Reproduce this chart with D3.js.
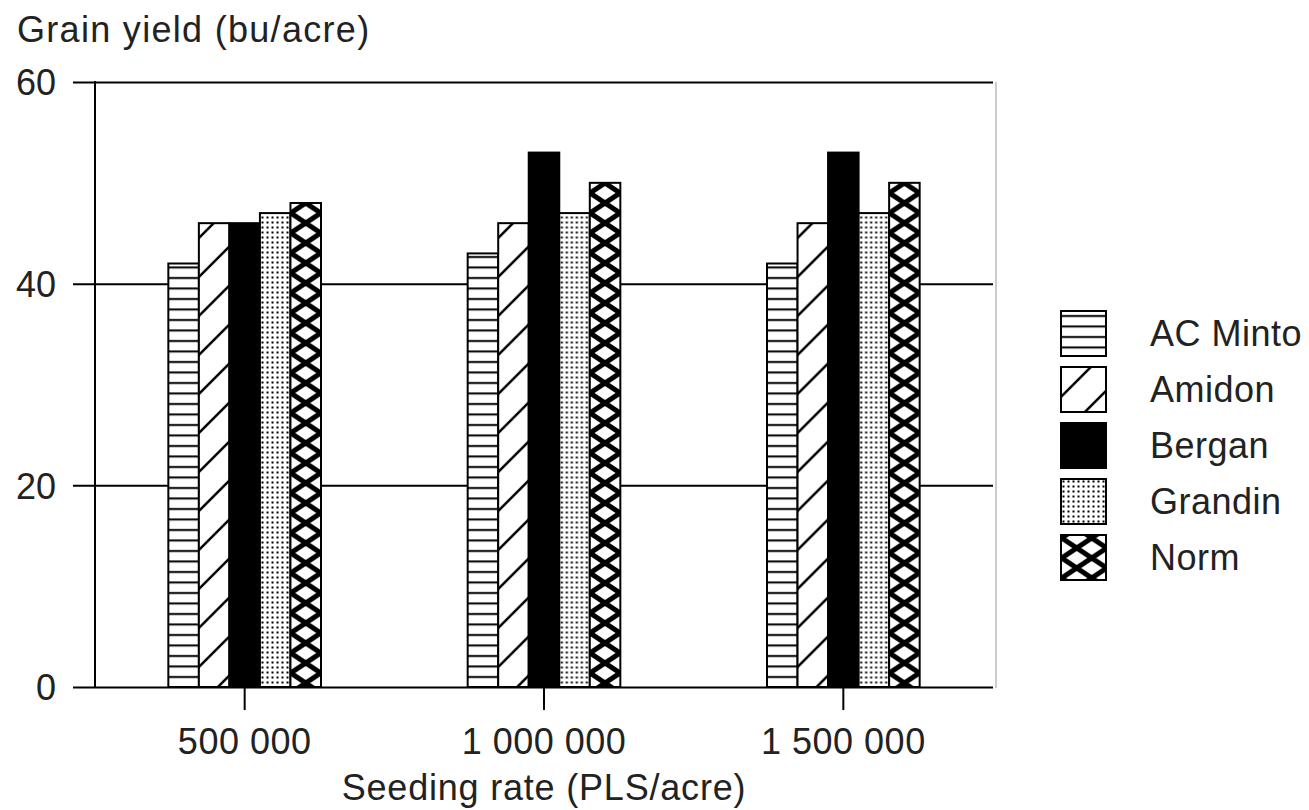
<!DOCTYPE html>
<html>
<head>
<meta charset="utf-8">
<script src="https://cdn.jsdelivr.net/npm/d3@7"></script>
<style>
  body { margin: 0; background: #fff; }
  text { font-family: "Liberation Sans", Arial, sans-serif; fill: #222; }
</style>
</head>
<body>
<div id="vis"></div>
<script>
// datos
const rates = ["500 000", "1 000 000", "1 500 000"];
const varieties = ["AC Minto", "Amidon", "Bergan", "Grandin", "Norm"];
const acMinto = [42, 43, 42];
const amidon = [46, 46, 46];
const bergan = [46, 53, 53];
const grandin = [47, 47, 47];
const norm = [48, 50, 50];
const yTicks = [0, 20, 40, 60];

const series = [acMinto, amidon, bergan, grandin, norm];
const fills = ["url(#p-hlines)", "url(#p-diag)", "#000", "url(#p-dots)", "url(#p-cross)"];

const WIDTH = 1309;
const HEIGHT = 810;

const SVG = d3.select("#vis").append("svg")
    .attr("width", WIDTH)
    .attr("height", HEIGHT);

const plotLeft = 95, plotRight = 993, plotTop = 82, plotBottom = 687;

const x0 = d3.scaleBand().domain(rates).range([plotLeft, plotRight]).paddingInner(0).paddingOuter(0);
const x1 = d3.scaleBand().domain(varieties)
    .range([x0.bandwidth() * 0.245, x0.bandwidth() * 0.755]);
const y = d3.scaleLinear().domain([0, 60]).range([plotBottom, plotTop]);

// patrones (coordenadas locales de cada grupo)
const defs = SVG.append("defs");

const ph = defs.append("pattern").attr("id", "p-hlines")
    .attr("patternUnits", "userSpaceOnUse").attr("width", 10).attr("height", 10.5);
ph.append("rect").attr("width", 10).attr("height", 10.5).attr("fill", "#fff");
ph.append("rect").attr("y", 4).attr("width", 10).attr("height", 2).attr("fill", "#000");

const pd = defs.append("pattern").attr("id", "p-diag")
    .attr("patternUnits", "userSpaceOnUse").attr("width", 39).attr("height", 39)
    .attr("x", x1("Amidon")).attr("y", 4);
pd.append("rect").attr("width", 39).attr("height", 39).attr("fill", "#fff");
pd.append("path").attr("d", "M-4,43 L43,-4 M-11,11 L11,-11 M28,50 L50,28")
    .attr("stroke", "#000").attr("stroke-width", 2.5);

const pdots = defs.append("pattern").attr("id", "p-dots")
    .attr("patternUnits", "userSpaceOnUse").attr("width", 5).attr("height", 5);
pdots.append("rect").attr("width", 5).attr("height", 5).attr("fill", "#fff");
pdots.append("rect").attr("x", 1.5).attr("y", 1.5).attr("width", 2).attr("height", 2).attr("fill", "#000");

const pc = defs.append("pattern").attr("id", "p-cross")
    .attr("patternUnits", "userSpaceOnUse").attr("width", 30).attr("height", 20)
    .attr("x", x1("Norm") + x1.bandwidth() / 2 - 15).attr("y", 13);
pc.append("rect").attr("width", 30).attr("height", 20).attr("fill", "#fff");
pc.append("path").attr("d", "M-6,-4 L36,24 M36,-4 L-6,24")
    .attr("stroke", "#000").attr("stroke-width", 5);

// borde derecho gris
SVG.append("line")
    .attr("x1", plotRight + 3).attr("x2", plotRight + 3)
    .attr("y1", plotTop).attr("y2", plotBottom + 1)
    .attr("stroke", "#bbb").attr("stroke-width", 1.5);

// eje y con lineas de grilla
const yAxis = SVG.append("g")
    .attr("transform", `translate(${plotRight},0)`)
    .call(d3.axisLeft(y).tickValues(yTicks).tickSize(plotRight - 73).tickPadding(17));
yAxis.select(".domain").remove();
yAxis.selectAll(".tick line").attr("stroke", "#000").attr("stroke-width", 2);
yAxis.selectAll(".tick text")
    .style("font-size", "36px")
    .attr("fill", "#222")
    .attr("dy", "0.36em");

SVG.append("line")
    .attr("x1", plotLeft).attr("x2", plotLeft)
    .attr("y1", plotTop - 1).attr("y2", plotBottom)
    .attr("stroke", "#000").attr("stroke-width", 2);

// barras
const groups = SVG.append("g").selectAll("g")
    .data(rates)
    .join("g")
    .attr("transform", d => `translate(${x0(d)},0)`);

groups.selectAll("rect")
    .data((d, i) => varieties.map((v, j) => ({ v: v, val: series[j][i], fill: fills[j] })))
    .join("rect")
    .attr("x", d => x1(d.v))
    .attr("y", d => y(d.val))
    .attr("width", x1.bandwidth())
    .attr("height", d => y(0) - y(d.val))
    .attr("fill", d => d.fill)
    .attr("stroke", "#000")
    .attr("stroke-width", 2);

// eje x
const xAxis = SVG.append("g")
    .attr("transform", `translate(0,${plotBottom})`)
    .call(d3.axisBottom(x0).tickSize(23).tickPadding(18));
xAxis.select(".domain").remove();
xAxis.selectAll(".tick line").attr("stroke", "#000").attr("stroke-width", 2);
xAxis.selectAll(".tick text")
    .style("font-size", "36px")
    .style("letter-spacing", "0.5px")
    .attr("fill", "#222");

// titulos
SVG.append("text")
    .attr("x", 17).attr("y", 42)
    .style("font-size", "36px")
    .style("letter-spacing", "1.3px")
    .text("Grain yield (bu/acre)");

SVG.append("text")
    .attr("x", (plotLeft + plotRight) / 2).attr("y", 800)
    .attr("text-anchor", "middle")
    .style("font-size", "36px")
    .style("letter-spacing", "0.8px")
    .text("Seeding rate (PLS/acre)");

// leyenda
const legend = SVG.append("g").selectAll("g")
    .data(varieties)
    .join("g")
    .attr("transform", (d, i) => `translate(1061,${311 + i * 56})`);

legend.append("rect")
    .attr("width", 45).attr("height", 45)
    .attr("fill", (d, i) => fills[i])
    .attr("stroke", "#000")
    .attr("stroke-width", 2);

legend.append("text")
    .attr("x", 89).attr("y", 22.5)
    .attr("dy", "0.36em")
    .style("font-size", "36px")
    .style("letter-spacing", "0.5px")
    .text(d => d);
</script>
</body>
</html>
